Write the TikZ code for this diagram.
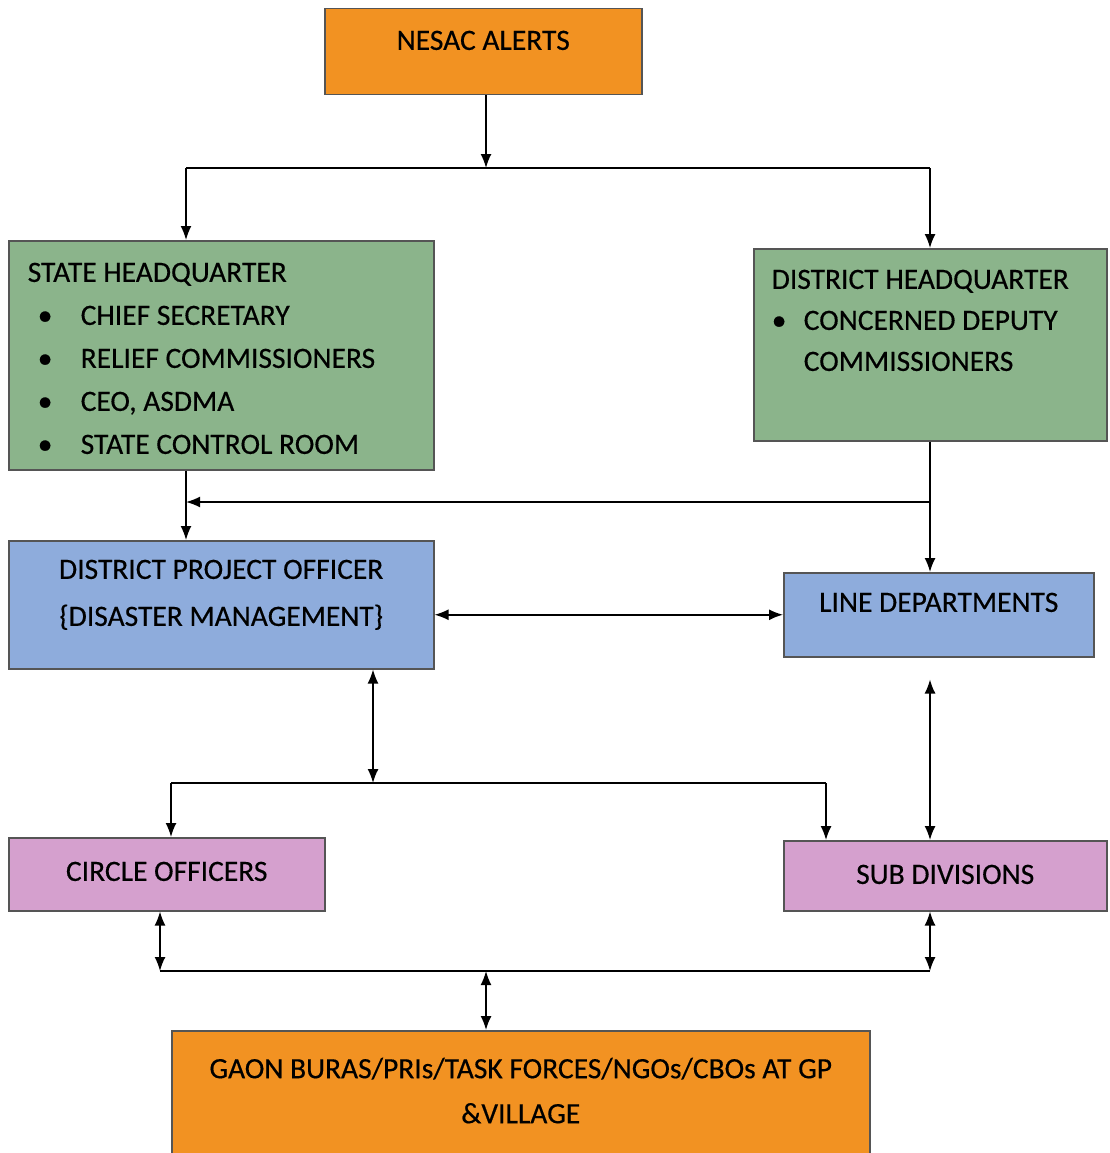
\documentclass[tikz,border=0pt]{standalone}
\usepackage{fontspec}
\setmainfont{Carlito}
\newfontfamily\boxfont[FakeBold=0.4]{Carlito}
\usetikzlibrary{arrows.meta,positioning}

\definecolor{alertorange}{RGB}{242,146,34}
\definecolor{hqgreen}{RGB}{139,180,139}
\definecolor{officeblue}{RGB}{142,172,220}
\definecolor{unitpink}{RGB}{213,160,206}
\definecolor{edgegray}{RGB}{85,85,85}

% text block of a box: width, height, top gap, contents
\newcommand{\boxtext}[4]{\parbox[c][#2][t]{#1}{\vspace*{#3}#4}}
\newcommand{\itembul}[1]{\makebox[#1][l]{\textbullet}}

\begin{document}
\begin{tikzpicture}[
			x=1pt, y=-1pt,
			% rectangle with a grey rim, placed by its top left corner
			orgbox/.style={rectangle, draw=edgegray, line width=1.5pt, inner sep=0pt,
				anchor=north west, font=\boxfont\fontsize{29.5}{43}\selectfont},
			% joining lines
			link/.style={line width=1.6pt},
			>={Latex[length=14pt,width=11pt]}
		]
		\useasboundingbox (0,0) rectangle (1109,1153);

		%Nodes
		\node[orgbox, fill=alertorange] (nesac)   at (324,8)
			{\boxtext{317pt}{86pt}{22pt}{\centering NESAC ALERTS}};
		\node[orgbox, fill=hqgreen]     (statehq) at (8,240)
			{\boxtext{425pt}{229pt}{22pt}{\raggedright\leftskip=19pt
				STATE HEADQUARTER\\
				\hspace*{10pt}\itembul{43pt}CHIEF SECRETARY\\
				\hspace*{10pt}\itembul{43pt}RELIEF COMMISSIONERS\\
				\hspace*{10pt}\itembul{43pt}CEO, ASDMA\\
				\hspace*{10pt}\itembul{43pt}STATE CONTROL ROOM}};
		\node[orgbox, fill=hqgreen]     (disthq)  at (753,248)
			{\boxtext{353pt}{192pt}{21pt}{\raggedright\leftskip=18pt
				DISTRICT HEADQUARTER\\[-2pt]
				\itembul{32pt}CONCERNED DEPUTY\\[-2pt]
				\hspace*{32pt}COMMISSIONERS}};
		\node[orgbox, fill=officeblue]  (dpo)     at (8,540)
			{\boxtext{425pt}{128pt}{19pt}{\centering
				DISTRICT PROJECT OFFICER\\[4pt]
				\{DISASTER MANAGEMENT\}}};
		\node[orgbox, fill=officeblue]  (linedep) at (783,572)
			{\boxtext{310pt}{84pt}{20pt}{\centering LINE DEPARTMENTS}};
		\node[orgbox, fill=unitpink]    (circle)  at (8,837)
			{\boxtext{316pt}{73pt}{24pt}{\centering CIRCLE OFFICERS}};
		\node[orgbox, fill=unitpink]    (subdiv)  at (783,840)
			{\boxtext{323pt}{70pt}{24pt}{\centering SUB DIVISIONS}};
		\node[orgbox, fill=alertorange] (gaon)    at (171,1030)
			{\boxtext{698pt}{124pt}{27pt}{\centering
				GAON BURAS/PRIs/TASK FORCES/NGOs/CBOs AT GP\\[2pt]
				\&VILLAGE}};

		% points where the lines meet
		\coordinate (topbus)  at (486,168);
		\coordinate (topL)    at (186,168);
		\coordinate (topR)    at (930,168);
		\coordinate (midR)    at (930,502);
		\coordinate (lowbus)  at (373,783);
		\coordinate (lowL)    at (171,783);
		\coordinate (lowR)    at (826,783);
		\coordinate (basebus) at (486,971);
		\coordinate (baseL)   at (160,971);
		\coordinate (baseR)   at (930,971);

		%Lines
		\draw[link, ->]  (topbus |- nesac.south)   --  (topbus);
		\draw[link]      (topL)                    --  (topR);
		\draw[link, ->]  (topL)                    --  (topL |- statehq.north);
		\draw[link, ->]  (topR)                    --  (topR |- disthq.north);
		\draw[link, ->]  (topL |- statehq.south)   --  (topL |- dpo.north);
		\draw[link, ->]  (topR |- disthq.south)    --  (topR |- linedep.north);
		\draw[link, ->]  (midR)                    --  (topL |- midR);
		\draw[link, <->] (linedep.west -| dpo.east) --  (linedep.west);
		\draw[link, <->] (lowbus |- dpo.south)     --  (lowbus);
		\draw[link]      (lowL)                    --  (lowR);
		\draw[link, ->]  (lowL)                    --  (lowL |- circle.north);
		\draw[link, ->]  (lowR)                    --  (lowR |- subdiv.north);
		\draw[link, <->, shorten <=22pt] (topR |- linedep.south) -- (topR |- subdiv.north);
		\draw[link, <->] (baseL |- circle.south)   --  (baseL);
		\draw[link, <->] (baseR |- subdiv.south)   --  (baseR);
		\draw[link]      (baseL)                   --  (baseR);
		\draw[link, <->] (basebus)                 --  (basebus |- gaon.north);
	\end{tikzpicture}
\end{document}
